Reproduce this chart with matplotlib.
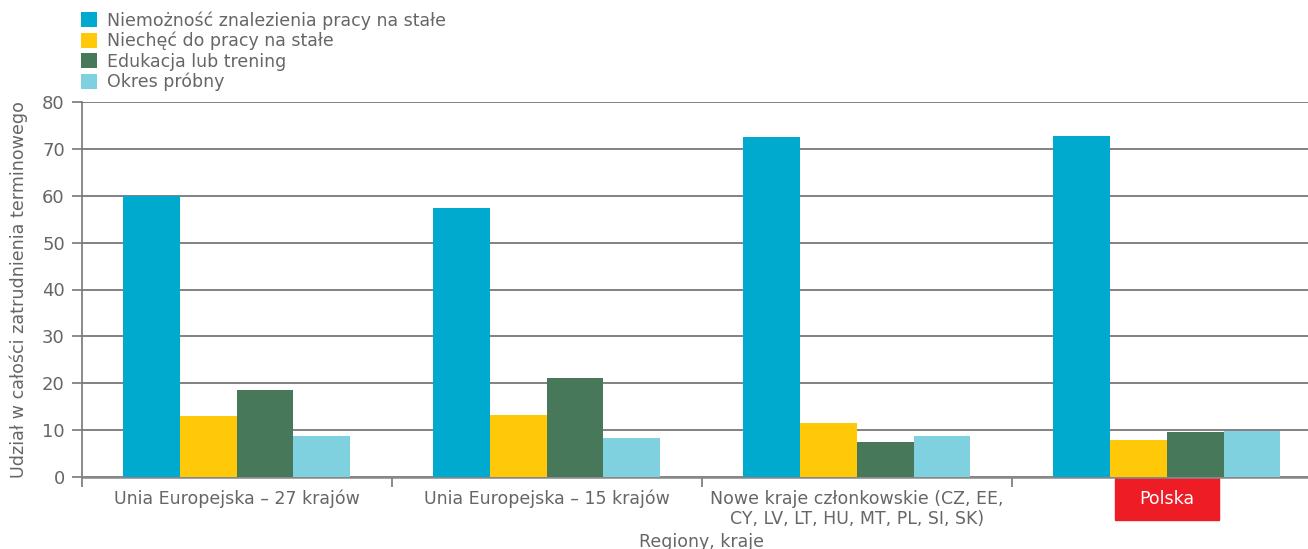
import numpy as np
import matplotlib
matplotlib.use('Agg')
import matplotlib.pyplot as plt
from matplotlib.patches import Patch, Rectangle
from matplotlib.transforms import blended_transform_factory

plt.rcParams['font.family'] = ['DejaVu Sans']

# dane
regiony = ['Unia Europejska – 27 krajów',
           'Unia Europejska – 15 krajów',
           'Nowe kraje członkowskie (CZ, EE,\nCY, LV, LT, HU, MT, PL, SI, SK)',
           'Polska']
serie = ['Niemożność znalezienia pracy na stałe',
         'Niechęć do pracy na stałe',
         'Edukacja lub trening',
         'Okres próbny']
niemoznosc = [60.0, 57.4, 72.5, 72.7]
niechec = [13.0, 13.2, 11.5, 7.9]
edukacja = [18.6, 21.1, 7.5, 9.6]
okres_probny = [8.7, 8.3, 8.7, 9.8]
y_ticks = [0, 10, 20, 30, 40, 50, 60, 70, 80]

kolory = ['#00AACE', '#FFC90A', '#48785A', '#80D1DF']
szary = '#666666'

fig = plt.figure(figsize=(13.08, 5.49), dpi=100)
ax = fig.add_axes([81.5 / 1308, 72 / 549, 1240.5 / 1308, 375 / 549])

x = np.arange(len(regiony))
w = 0.183
for i, (vals, kol) in enumerate(zip([niemoznosc, niechec, edukacja, okres_probny], kolory)):
    ax.bar(x + (i - 1.5) * w, vals, width=w, color=kol, zorder=3)

ax.set_xlim(-0.5, len(regiony) - 0.5)
ax.set_ylim(0, 80)
ax.set_yticks(y_ticks)
ax.yaxis.grid(True, color='#777777', linewidth=1.3)
ax.set_axisbelow(True)

for s in ['top', 'right']:
    ax.spines[s].set_visible(False)
ax.spines['left'].set_color('#777777')
ax.spines['left'].set_linewidth(1.2)
ax.spines['bottom'].set_color('#888888')
ax.spines['bottom'].set_linewidth(1.8)

ax.set_xticks(x)
ax.set_xticklabels(regiony, fontsize=12.5, color=szary, linespacing=1.15)
ax.tick_params(axis='x', which='major', length=0, pad=9)
ax.set_xticks(np.arange(-0.5, len(regiony) - 0.5), minor=True)
ax.tick_params(axis='x', which='minor', length=7, color='#777777', width=1.2)
ax.tick_params(axis='y', length=7, color='#777777', width=1.2, labelsize=13,
               labelcolor=szary, pad=5)

# czerwone tło dla Polski
trans = blended_transform_factory(ax.transData, ax.transAxes)
ax.add_patch(Rectangle((x[-1] - 0.169, -43 / 375), 0.338, 43 / 375, transform=trans,
                       color='#EE1C25', clip_on=False, zorder=0.1))
ax.get_xticklabels()[-1].set_color('white')

ax.set_ylabel('Udział w całości zatrudnienia terminowego', fontsize=12.6, color=szary)
ax.yaxis.set_label_coords(-0.043, 0.5)
ax.set_xlabel('Regiony, kraje', fontsize=12.5, color=szary)
ax.xaxis.set_label_coords(0.5, -0.149)

uchwyty = [Patch(facecolor=k, edgecolor='none') for k in kolory]
leg = fig.legend(uchwyty, serie, loc='upper left', bbox_to_anchor=(81 / 1308, 1 - 11 / 549),
                 frameon=False, fontsize=12.5, handlelength=0.95, handleheight=0.95,
                 handletextpad=0.55, labelspacing=0.13, borderpad=0, borderaxespad=0)
for t in leg.get_texts():
    t.set_color(szary)

fig.savefig('out.png', dpi=100)
